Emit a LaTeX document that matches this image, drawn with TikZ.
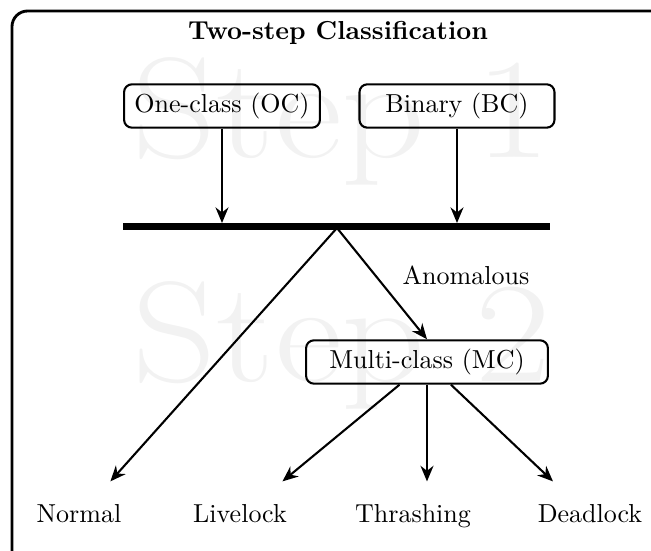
\documentclass[tikz,border=0pt]{standalone}
\usetikzlibrary{arrows.meta}
\begin{document}
\begin{tikzpicture}[x=0.3846pt,y=-0.3846pt,
  box/.style={draw,line width=0.8pt,rounded corners=3pt,minimum height=16pt,inner xsep=4pt},
  conn/.style={line width=0.8pt,-{Stealth[length=6pt,width=5pt]}},
  leaf/.style={inner xsep=0pt,inner ysep=8.8pt,text height=7pt,text depth=2pt},
  wmark/.style={text=black!5,font=\fontsize{55}{55}\selectfont,xscale=1.15}]
\useasboundingbox (0,0) rectangle (651,551);
\clip (0,0) rectangle (651,551);

% faint stage labels in the background
\node[wmark,anchor=base] (wm1) at (342,158) {Step 1};
\node[wmark,anchor=base] (wm2) at (342,382) {Step 2};

% outer frame
\draw[line width=1.1pt,rounded corners=6pt] (12,11) rectangle (720,620);

\node[font=\bfseries,anchor=base] (title) at (338,40) {Two-step Classification};

% first stage classifiers
\node[box,minimum width=75pt] (oc) at (222,106) {One-class (OC)};
\node[box,minimum width=75pt] (bc) at (457,106) {Binary (BC)};

% merging bar
\coordinate (barL) at (123,226.5);
\coordinate (barR) at (550,226.5);
\draw[line width=2.9pt] (barL) -- (barR);
\coordinate (ocHit) at (222,223);
\coordinate (bcHit) at (457,223);
\coordinate (split) at (337,228);
\draw[conn] (oc) -- (ocHit);
\draw[conn] (bc) -- (bcHit);

% second stage
\node[box,minimum width=93pt,minimum height=15.4pt] (mc) at (427,362) {Multi-class (MC)};
\node[anchor=base] (anom) at (466,285) {Anomalous};

% outcomes
\node[leaf] (normal) at (79,516.5) {Normal};
\node[leaf] (livelock) at (240,516.5) {Livelock};
\node[leaf] (thrashing) at (413,516.5) {Thrashing};
\node[leaf] (deadlock) at (590,516.5) {Deadlock};

\draw[conn] (split) -- (normal);
\draw[conn] (split) -- (mc.north);
\draw[conn] (mc) -- (livelock);
\draw[conn] (mc) -- (mc |- thrashing.north);
\draw[conn] (mc) -- (deadlock);
\end{tikzpicture}
\end{document}
